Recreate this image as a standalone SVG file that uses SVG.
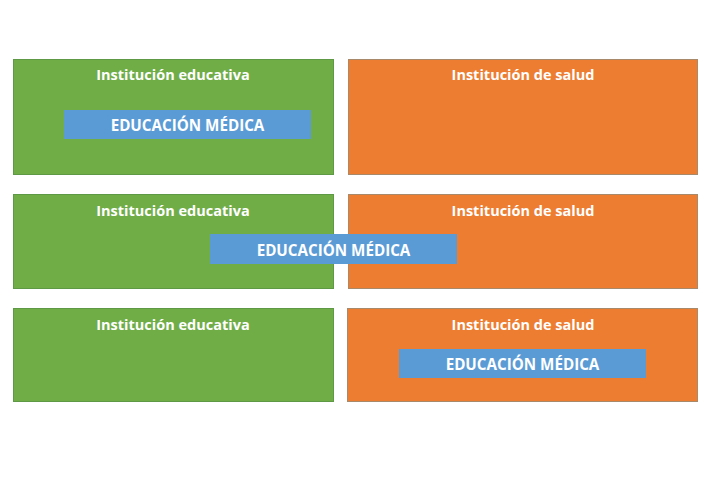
<svg xmlns="http://www.w3.org/2000/svg" width="722" height="482" viewBox="0 0 722 482">
<style>
.g{fill:#70AD47;stroke:#5E9A45;stroke-width:1}
.o{fill:#ED7D31;stroke:#A88A6A;stroke-width:1}
.b{fill:#5B9BD5}
.t{font-family:"Open Sans","Noto Sans",sans-serif;font-weight:bold;fill:#fff;text-anchor:middle}
.h{font-size:14.5px}
.m{font-size:15.2px}
</style>
<rect width="722" height="482" fill="#fff"/>
<g id="edu1"><rect class="g" x="13.5" y="59.5" width="320" height="115"/><text class="t h" x="173" y="79.5">Institución educativa</text></g>
<g id="sal1"><rect class="o" x="348.5" y="59.5" width="349" height="115"/><text class="t h" x="523" y="79.5">Institución de salud</text></g>
<g id="med1"><rect class="b" x="64" y="110" width="247" height="29"/><text class="t m" x="187.5" y="130.5">EDUCACIÓN MÉDICA</text></g>
<g id="edu2"><rect class="g" x="13.5" y="194.5" width="320" height="94"/><text class="t h" x="173" y="215.5">Institución educativa</text></g>
<g id="sal2"><rect class="o" x="348.5" y="194.5" width="349" height="94"/><text class="t h" x="523" y="215.5">Institución de salud</text></g>
<g id="med2"><rect class="b" x="210" y="234" width="247" height="30"/><text class="t m" x="333.5" y="255.5">EDUCACIÓN MÉDICA</text></g>
<g id="edu3"><rect class="g" x="13.5" y="308.5" width="320" height="93"/><text class="t h" x="173" y="329.5">Institución educativa</text></g>
<g id="sal3"><rect class="o" x="347.5" y="308.5" width="350" height="93"/><text class="t h" x="523" y="329.5">Institución de salud</text></g>
<g id="med3"><rect class="b" x="399" y="349" width="247" height="29"/><text class="t m" x="522.5" y="369.5">EDUCACIÓN MÉDICA</text></g>
<g id="connectors"/>
</svg>
